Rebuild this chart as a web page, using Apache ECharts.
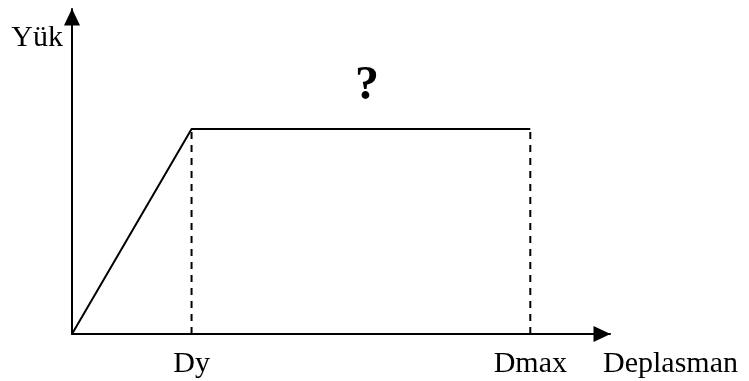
<!DOCTYPE html>
<html>
<head>
<meta charset="utf-8">
<script src="https://cdn.jsdelivr.net/npm/echarts@6/dist/echarts.min.js"></script>
<style>
	html, body { margin: 0; padding: 0; background: #fff; }
	#chart { width: 749px; height: 381px; }
</style>
</head>
<body>
<div id="chart"></div>
<script>
// load - displacement idealisation
var curve = [[0, 0], [12, 41], [46, 41]],
	dyLine = [[12, 0], [12, 41]],
	dmaxLine = [[46, 0], [46, 41]],
	tickValues = [12, 46],
	tickNames = {12: 'Dy', 46: 'Dmax'};

var font = 'Liberation Serif';

var chart = echarts.init(document.getElementById('chart'), null, { renderer: 'canvas' });

var option = {
	animation: false,
	backgroundColor: '#fff',
	title: {
		text: '?',
		left: 350,
		top: 58,
		textStyle: {
			fontFamily: font,
			fontWeight: 'bold',
			fontSize: 48,
			color: '#000'
		}
	},
	grid: {
		left: 72,
		right: 139,
		top: 9,
		bottom: 47
	},
	xAxis: {
		type: 'value',
		min: 0,
		max: 54,
		name: 'Deplasman',
		nameLocation: 'end',
		nameGap: -7,
		nameTextStyle: {
			fontFamily: font,
			fontSize: 30,
			color: '#000',
			align: 'left',
			verticalAlign: 'top',
			padding: [15, 0, 0, 0]
		},
		axisLine: {
			show: true,
			symbol: ['none', 'triangle'],
			symbolSize: [16, 17],
			symbolOffset: [0, -8],
			lineStyle: { color: '#000', width: 2 }
		},
		axisTick: { show: false },
		splitLine: { show: false },
		axisLabel: {
			customValues: tickValues,
			formatter: function(v) { return tickNames[v] || ''; },
			margin: 15,
			fontFamily: font,
			fontSize: 30,
			color: '#000'
		}
	},
	yAxis: {
		type: 'value',
		min: 0,
		max: 65,
		name: 'Yük',
		nameLocation: 'end',
		nameGap: -29,
		nameTextStyle: {
			fontFamily: font,
			fontSize: 30,
			color: '#000',
			align: 'right',
			verticalAlign: 'middle',
			padding: [0, 9, 0, 0]
		},
		axisLine: {
			show: true,
			symbol: ['none', 'triangle'],
			symbolSize: [16, 17],
			symbolOffset: [0, -8],
			lineStyle: { color: '#000', width: 2 }
		},
		axisTick: { show: false },
		splitLine: { show: false },
		axisLabel: { show: false }
	},
	series: [
		{
			type: 'line',
			data: curve,
			symbol: 'none',
			lineStyle: { color: '#000', width: 2 }
		},
		{
			type: 'line',
			data: dyLine,
			symbol: 'none',
			lineStyle: { color: '#000', width: 2, type: [7, 6] }
		},
		{
			type: 'line',
			data: dmaxLine,
			symbol: 'none',
			lineStyle: { color: '#000', width: 2, type: [7, 6] }
		}
	]
};

chart.setOption(option);
</script>
</body>
</html>
